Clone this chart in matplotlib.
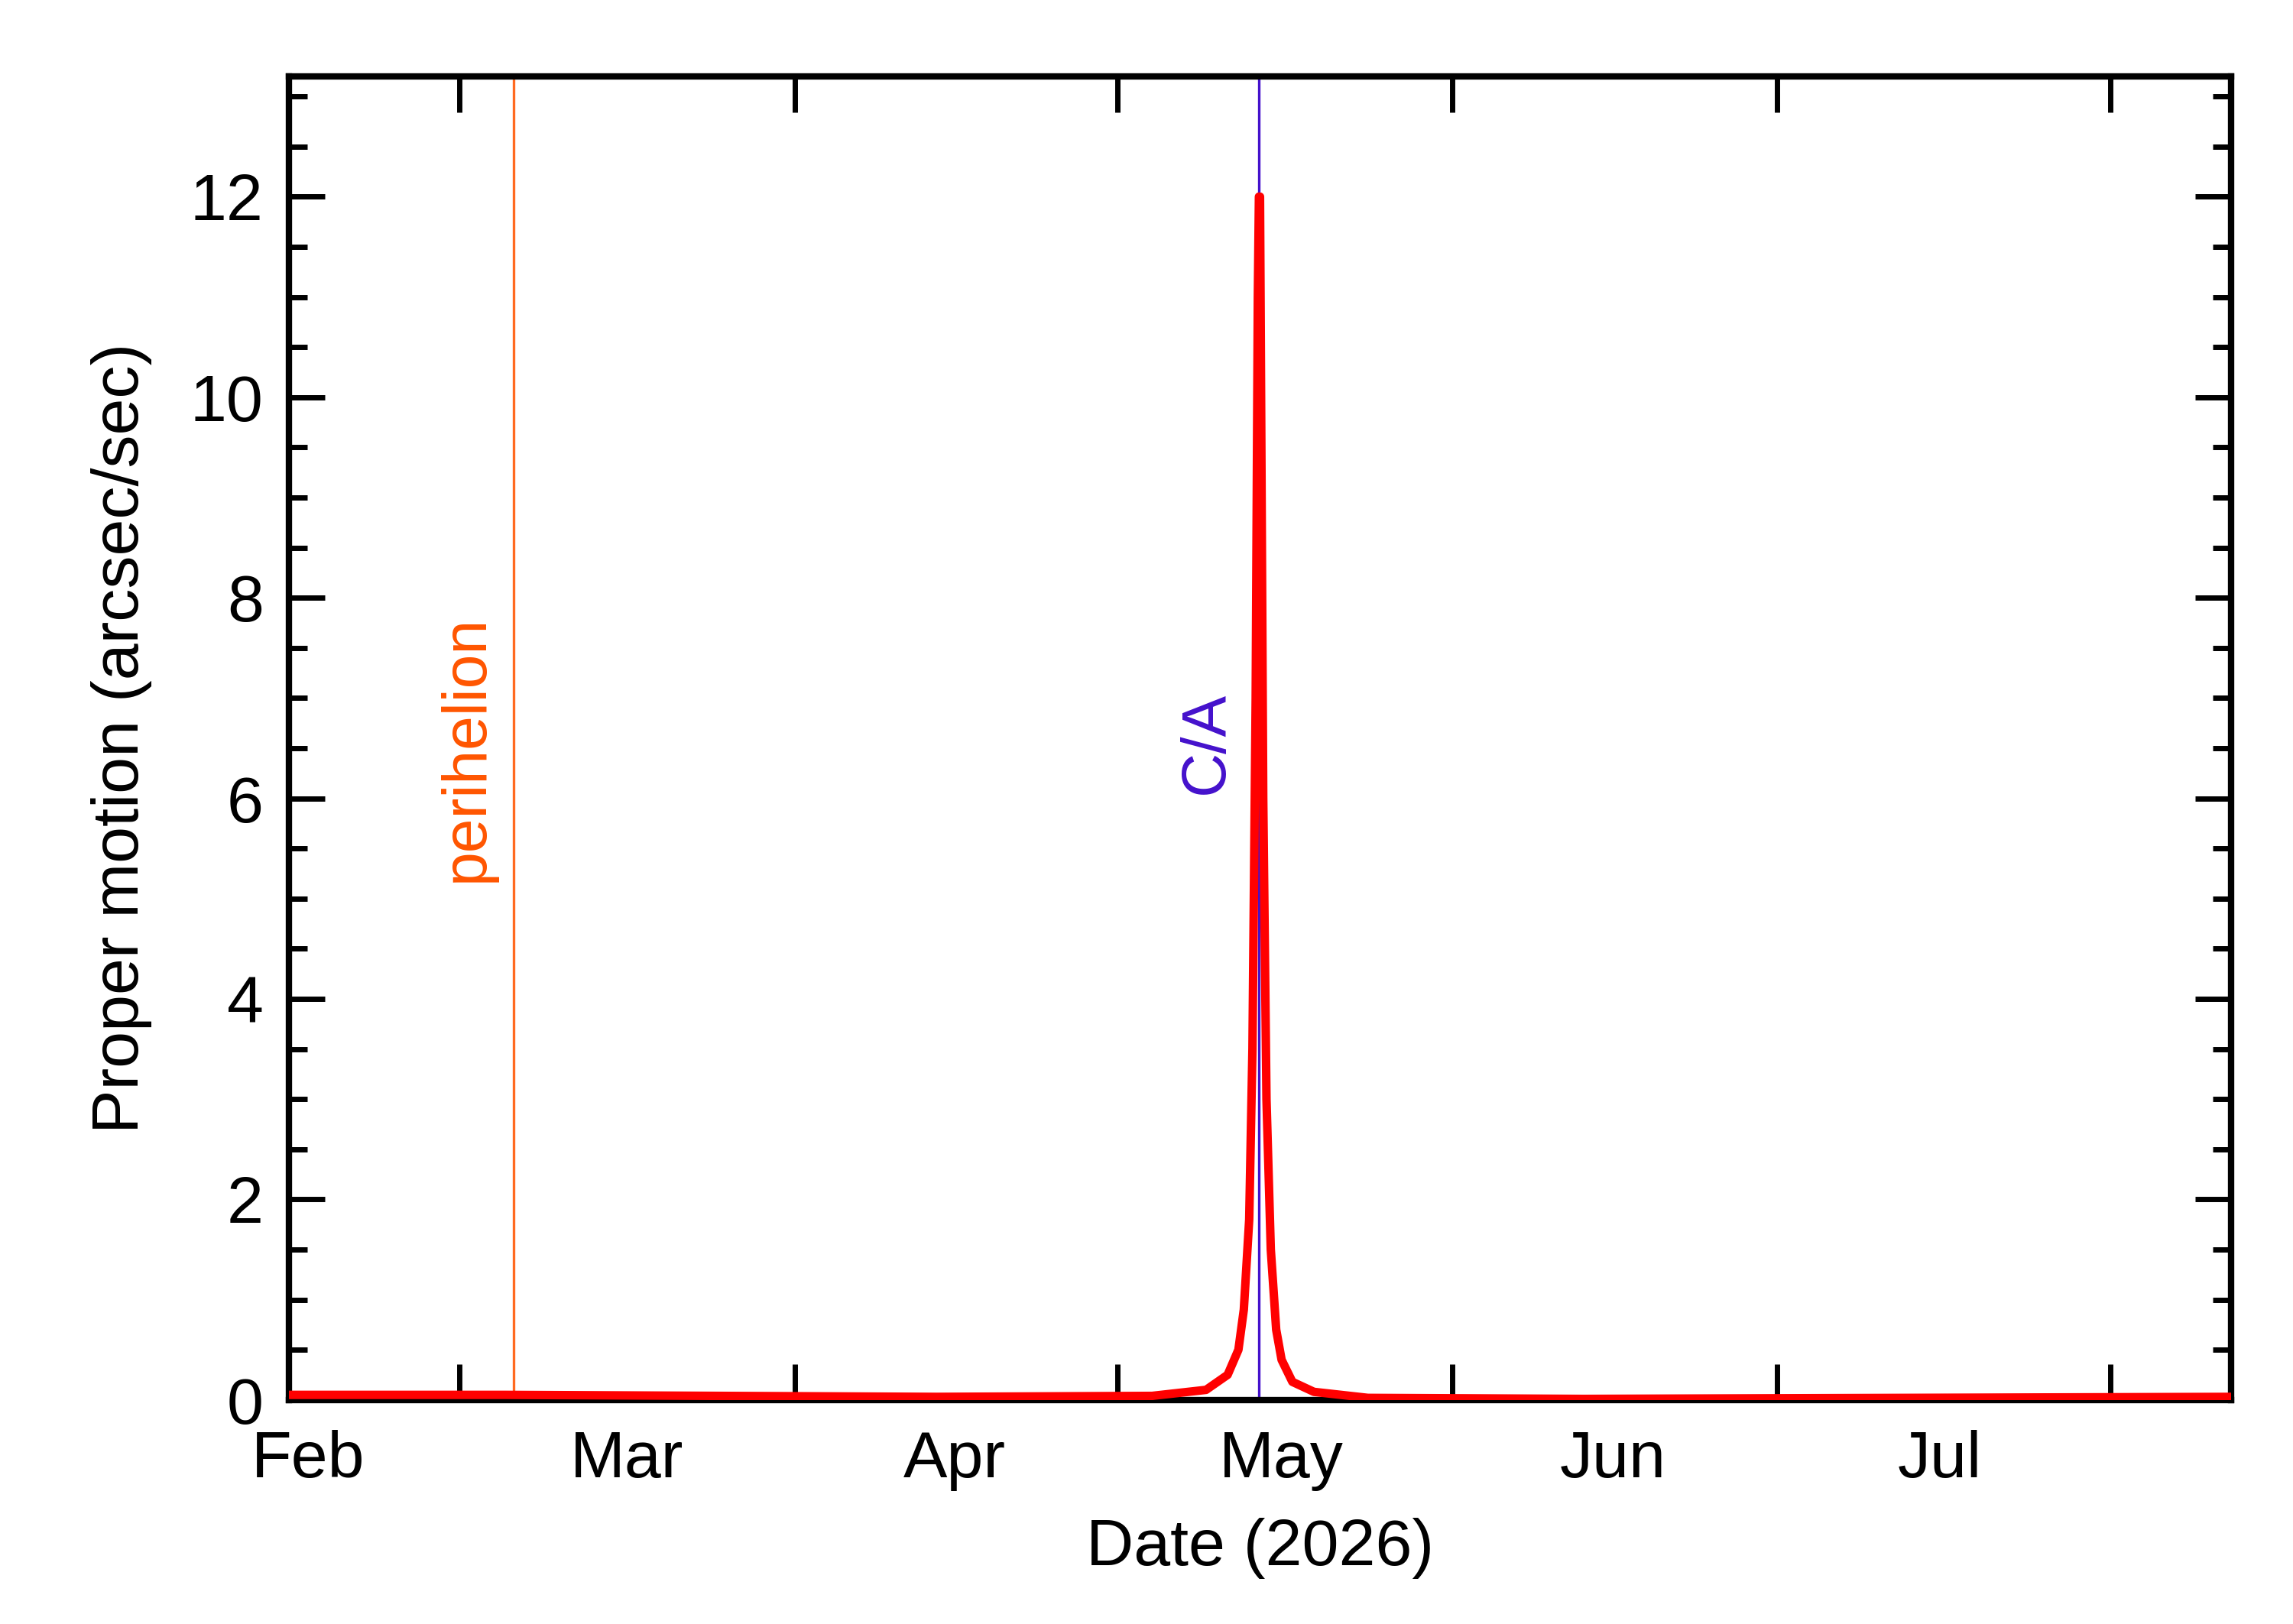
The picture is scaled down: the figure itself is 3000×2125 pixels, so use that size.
import matplotlib
matplotlib.use("Agg")
import matplotlib.pyplot as plt
from matplotlib.ticker import MultipleLocator

plt.rcParams['font.family'] = ['Liberation Sans', 'DejaVu Sans']

days = [0, 20, 40, 60, 80, 85, 87, 88, 88.5, 89, 89.3, 89.6, 89.8, 89.9, 90.0, 90.1, 90.3,
        90.6, 91, 91.5, 92, 93, 95, 100, 120, 150, 180]
motion = [0.05, 0.05, 0.04, 0.03, 0.04, 0.1, 0.25, 0.5, 0.9, 1.8, 3.5, 7, 11, 12, 12, 10, 6,
          3, 1.5, 0.7, 0.4, 0.18, 0.08, 0.02, 0.01, 0.02, 0.03]
month_labels = ['Feb', 'Mar', 'Apr', 'May', 'Jun', 'Jul']
month_label_pos = [1.8, 31.3, 61.7, 92.0, 122.7, 153.0]
major_ticks = [15.8, 46.9, 76.8, 107.8, 137.9, 168.8]
perihelion_day = 20.8
ca_day = 89.9

fig = plt.figure(figsize=(15, 10.625), dpi=200)
ax = fig.add_axes([0.126, 0.138, 0.847, 0.815])
ax.plot(days, motion, color='red', lw=4, zorder=3, solid_joinstyle='round')
ax.axvline(perihelion_day, color='#FF6A20', lw=1.2)
ax.axvline(ca_day, color='#4411CC', lw=1.2)
ax.text(perihelion_day - 4.3, 6.5, 'perihelion', rotation=90, color='#FF5500',
        fontsize=29, ha='center', va='center')
ax.text(ca_day - 4.8, 6.55, 'C/A', rotation=90, color='#4411CC',
        fontsize=29, ha='center', va='center')

ax.set_xlim(0, 180)
ax.set_ylim(0, 13.2)
ax.set_xticks(major_ticks)
ax.set_xticklabels([])
for p, l in zip(month_label_pos, month_labels):
    ax.text(p, -0.3, l, fontsize=31, ha='center', va='top',
            transform=ax.transData)
ax.yaxis.set_major_locator(MultipleLocator(2))
ax.yaxis.set_minor_locator(MultipleLocator(0.5))
ax.tick_params(which='both', direction='in', top=True, right=True, width=2.5)
ax.tick_params(which='major', length=17, labelsize=31)
ax.tick_params(which='minor', length=8.5)
ax.tick_params(axis='y', pad=12)
for s in ax.spines.values():
    s.set_linewidth(3)
ax.set_xlabel('Date (2026)', fontsize=31, labelpad=52)
ax.set_ylabel('Proper motion (arcsec/sec)', fontsize=31, labelpad=18)
fig.savefig('out.png')
